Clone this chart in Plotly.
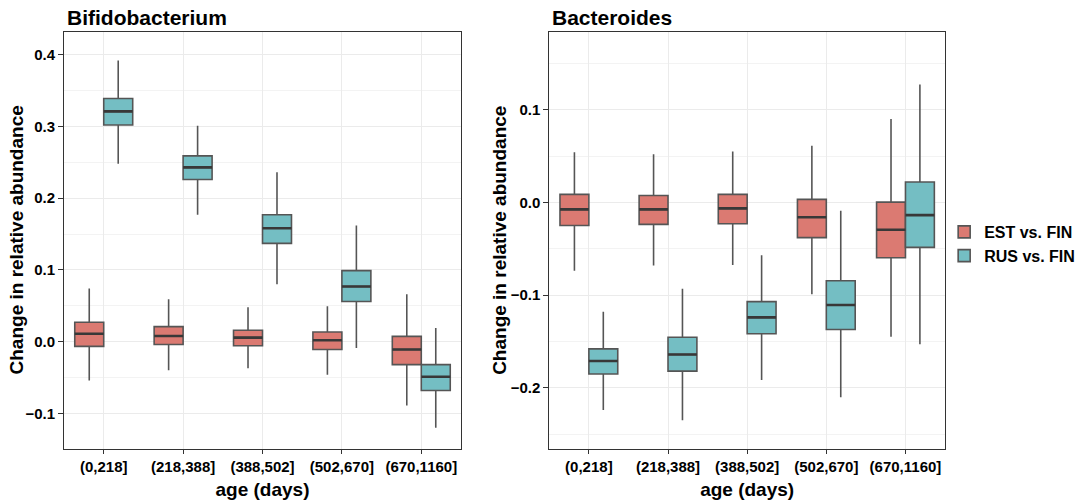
import plotly.graph_objects as go
from plotly.subplots import make_subplots

categories = ["(0,218]", "(218,388]", "(388,502]", "(502,670]", "(670,1160]"]

# Bifidobacterium
bif_est_low = [-0.054, -0.040, -0.037, -0.046, -0.089]
bif_est_q1 = [-0.0065, -0.004, -0.0056, -0.011, -0.032]
bif_est_med = [0.011, 0.008, 0.0056, 0.002, -0.011]
bif_est_q3 = [0.027, 0.021, 0.016, 0.0134, 0.0074]
bif_est_high = [0.074, 0.059, 0.048, 0.0495, 0.066]

bif_rus_low = [0.248, 0.177, 0.080, -0.009, -0.120]
bif_rus_q1 = [0.302, 0.226, 0.137, 0.056, -0.068]
bif_rus_med = [0.321, 0.243, 0.158, 0.077, -0.049]
bif_rus_q3 = [0.339, 0.259, 0.177, 0.099, -0.032]
bif_rus_high = [0.392, 0.301, 0.236, 0.162, 0.019]

# Bacteroides
bac_est_low = [-0.0737, -0.068, -0.0676, -0.099, -0.145]
bac_est_q1 = [-0.025, -0.0237, -0.023, -0.038, -0.0597]
bac_est_med = [-0.0075, -0.0075, -0.0065, -0.016, -0.0295]
bac_est_q3 = [0.0086, 0.0075, 0.0086, 0.0032, 0.0003]
bac_est_high = [0.054, 0.052, 0.055, 0.061, 0.0898]

bac_rus_low = [-0.224, -0.235, -0.1915, -0.210, -0.153]
bac_rus_q1 = [-0.185, -0.182, -0.1416, -0.137, -0.0485]
bac_rus_med = [-0.171, -0.164, -0.124, -0.1107, -0.0137]
bac_rus_q3 = [-0.158, -0.1455, -0.107, -0.0845, 0.022]
bac_rus_high = [-0.118, -0.093, -0.057, -0.009, 0.127]

series_names = ["EST vs. FIN", "RUS vs. FIN"]
fills = ["#DB7A72", "#74BEC3"]
line_col = "#555555"
median_col = "#383838"
FONT = "Liberation Sans, Arial, Helvetica, sans-serif"

fig = make_subplots(rows=1, cols=2)

panels = [
    (1, [(bif_est_low, bif_est_q1, bif_est_med, bif_est_q3, bif_est_high),
         (bif_rus_low, bif_rus_q1, bif_rus_med, bif_rus_q3, bif_rus_high)]),
    (2, [(bac_est_low, bac_est_q1, bac_est_med, bac_est_q3, bac_est_high),
         (bac_rus_low, bac_rus_q1, bac_rus_med, bac_rus_q3, bac_rus_high)]),
]

for col, groups in panels:
    for i, (lo, q1, md, q3, hi) in enumerate(groups):
        fig.add_trace(go.Box(
            x=categories, lowerfence=lo, q1=q1, median=md, q3=q3, upperfence=hi,
            name=series_names[i], legendgroup=series_names[i], showlegend=(col == 1),
            offsetgroup=str(i), fillcolor=fills[i],
            line=dict(color=line_col, width=1.6), whiskerwidth=0,
            boxpoints=False, hoverinfo="skip",
        ), row=1, col=col)
    # thicker median bars (ggplot style), drawn as flat boxes in the same slots
    for i, (lo, q1, md, q3, hi) in enumerate(groups):
        fig.add_trace(go.Box(
            x=categories, lowerfence=md, q1=md, median=md, q3=md, upperfence=md,
            name=series_names[i], legendgroup=series_names[i], showlegend=False,
            offsetgroup=str(i), fillcolor="rgba(0,0,0,0)",
            line=dict(color=median_col, width=2.6), whiskerwidth=0,
            boxpoints=False, hoverinfo="skip",
        ), row=1, col=col)

fig.update_layout(
    width=1089, height=504,
    margin=dict(l=0, r=0, t=0, b=0),
    paper_bgcolor="white", plot_bgcolor="white",
    boxmode="group", boxgap=0.27, boxgroupgap=0,
    font=dict(family=FONT, color="black"),
    legend=dict(x=0.867, y=0.516, xanchor="left", yanchor="middle",
                font=dict(size=16, family=FONT, color="black", weight="bold"),
                tracegroupgap=0, itemwidth=30, bgcolor="rgba(0,0,0,0)"),
)

xcommon = dict(showline=True, linecolor="#333333", linewidth=1, mirror=True,
               showgrid=True, gridcolor="#EBEBEB", gridwidth=1,
               ticks="outside", ticklen=4, tickcolor="#333333",
               tickfont=dict(size=15, family=FONT, color="black", weight="bold"),
               title=dict(text="<b>age (days)</b>", font=dict(size=19, family=FONT), standoff=8),
               zeroline=False, automargin=False)
fig.update_xaxes(**xcommon)
fig.update_xaxes(domain=[0.0588, 0.4233], row=1, col=1)
fig.update_xaxes(domain=[0.5044, 0.8678], row=1, col=2)

ycommon = dict(showline=True, linecolor="#333333", linewidth=1, mirror=True,
               showgrid=True, gridcolor="#EBEBEB", gridwidth=1,
               ticks="outside", ticklen=5, tickcolor="#333333",
               tickfont=dict(size=15, family=FONT, color="black", weight="bold"),
               zeroline=False, domain=[0.109, 0.937], tickformat=".1f", automargin=False)
fig.update_yaxes(**ycommon)
fig.update_yaxes(range=[-0.1497, 0.432], dtick=0.1, tick0=0,
                 minor=dict(showgrid=True, dtick=0.05, tick0=0, gridcolor="#F3F3F3", gridwidth=1),
                 row=1, col=1)
fig.update_yaxes(range=[-0.266, 0.184], dtick=0.1, tick0=0,
                 minor=dict(showgrid=True, dtick=0.05, tick0=0, gridcolor="#F3F3F3", gridwidth=1),
                 row=1, col=2)

for xpos in (0.0152, 0.4591):
    fig.add_annotation(text="<b>Change in relative abundance</b>", xref="paper", yref="paper",
                       x=xpos, y=0.524, xanchor="center", yanchor="middle", textangle=-90,
                       showarrow=False, font=dict(size=19, family=FONT, color="black"))

fig.add_annotation(text="<b>Bifidobacterium</b>", xref="paper", yref="paper",
                   x=0.0597, y=0.939, xanchor="left", yanchor="bottom", showarrow=False,
                   font=dict(size=21, family=FONT, color="black"))
fig.add_annotation(text="<b>Bacteroides</b>", xref="paper", yref="paper",
                   x=0.5053, y=0.939, xanchor="left", yanchor="bottom", showarrow=False,
                   font=dict(size=21, family=FONT, color="black"))

fig.write_html("out.html", config={"displayModeBar": False},
               post_script="document.body.style.margin='0';document.body.style.padding='0';")
